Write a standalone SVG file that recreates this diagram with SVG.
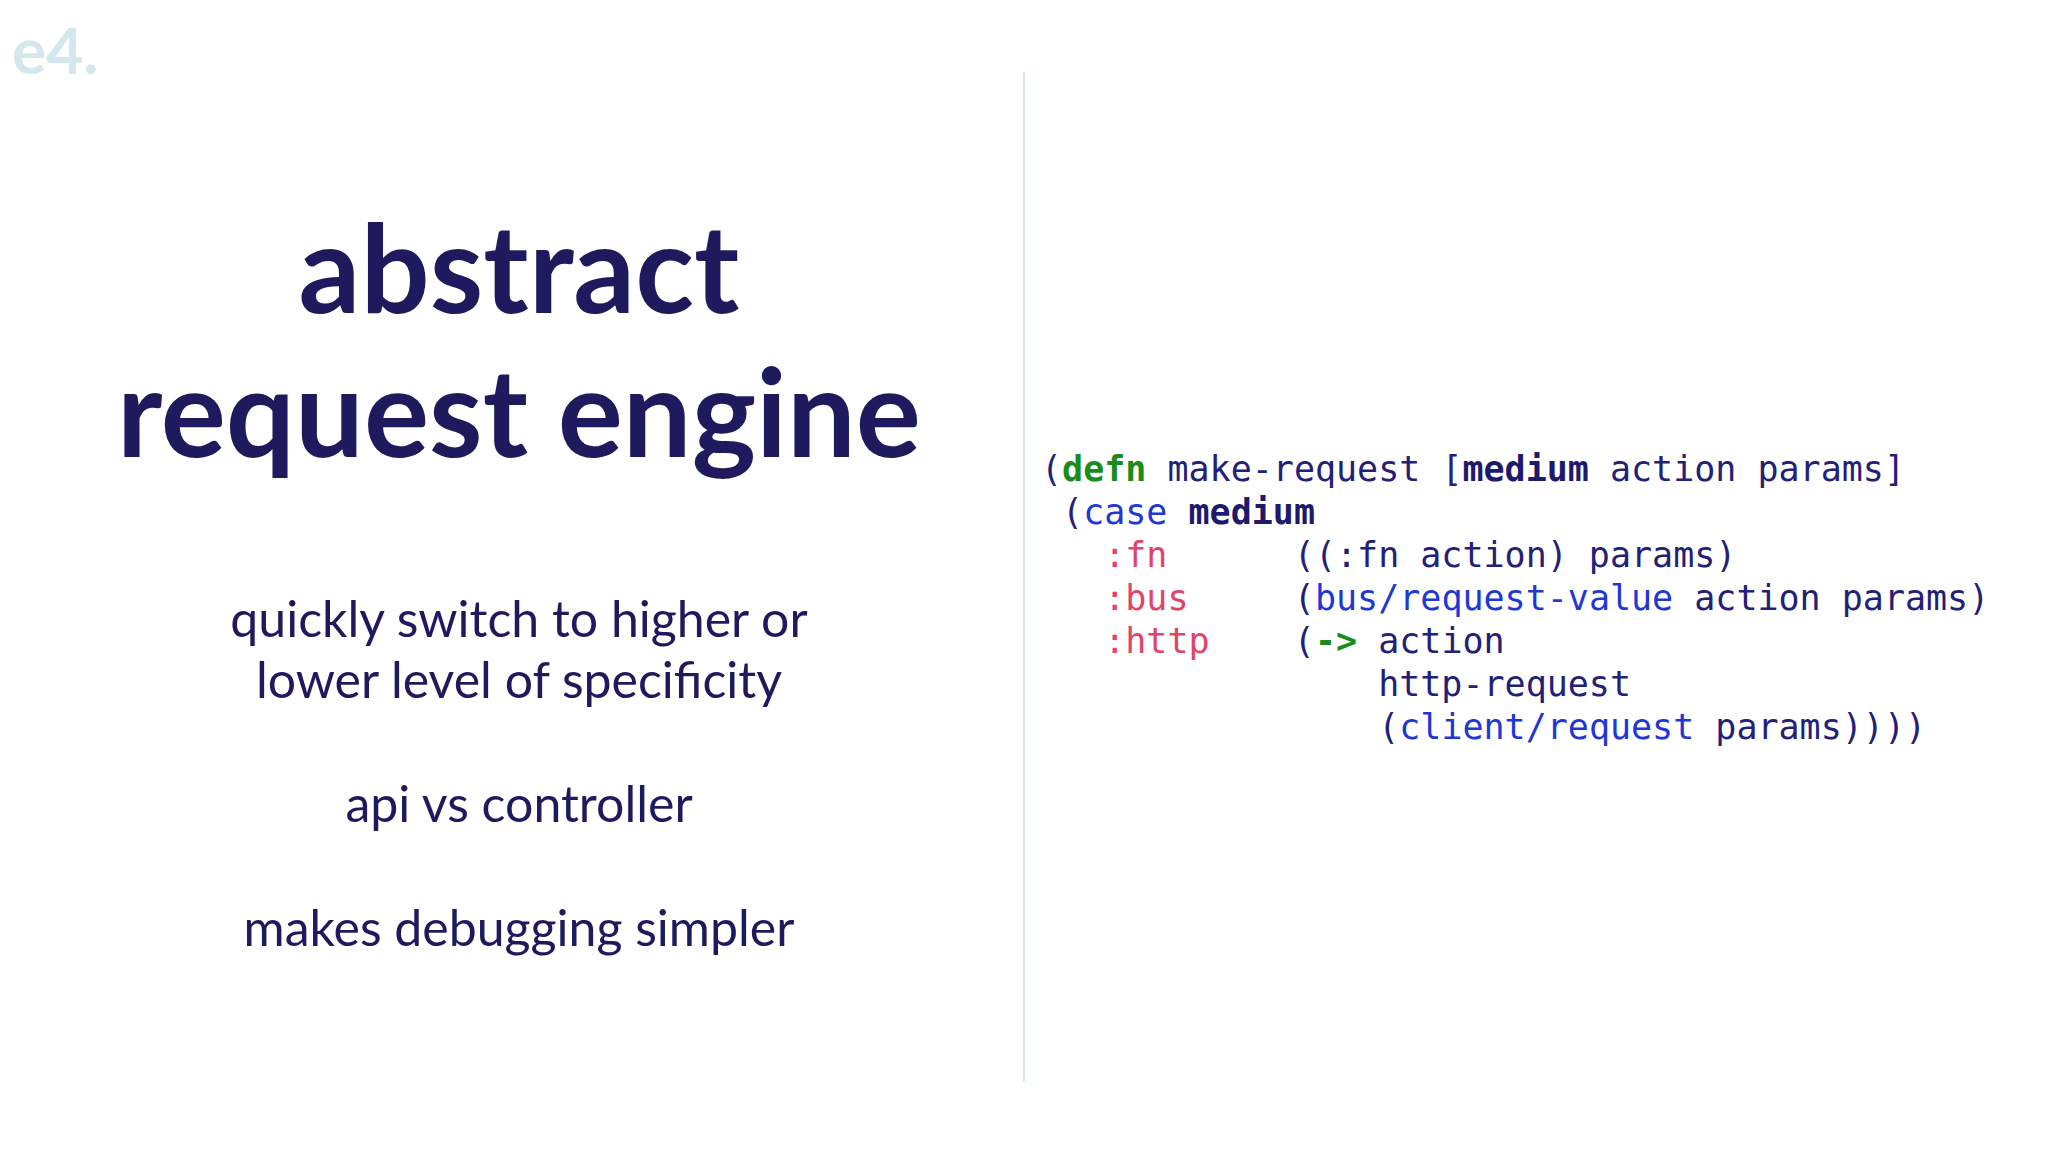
<svg xmlns="http://www.w3.org/2000/svg" width="2048" height="1152" viewBox="0 0 2048 1152">
<style>
.t{font-family:Lato,"Liberation Sans",sans-serif;fill:#1f1a5e;text-anchor:middle}
.c{font-family:"DejaVu Sans Mono","Liberation Mono",monospace;font-size:35px;fill:#232078;white-space:pre}
.g{fill:#1a8c1a;font-weight:bold}.k{fill:#1f37d6}.r{fill:#e04468}.b{font-weight:bold;fill:#1d1a6e}
</style>
<rect width="2048" height="1152" fill="#fff"/>
<g id="logo"><text x="12" y="74" font-family="Lato,sans-serif" font-weight="bold" font-size="64" fill="#d3e7ec">e4.</text></g>
<g id="divider"><line x1="1024" y1="72" x2="1024" y2="1081" stroke="#cfe6e4" stroke-width="2"/></g>
<g id="title">
<text class="t" x="519" y="313" font-size="122" font-weight="bold">abstract</text>
<text class="t" x="519" y="457" font-size="122" font-weight="bold">request engine</text>
</g>
<g id="points">
<text class="t" x="519" y="637" font-size="50">quickly switch to higher or</text>
<text class="t" x="519" y="698" font-size="50">lower level of specificity</text>
<text class="t" x="519" y="822" font-size="50">api vs controller</text>
<text class="t" x="519" y="946" font-size="50">makes debugging simpler</text>
</g>
<g id="code">
<text class="c" x="1041" y="481">(<tspan class="g">defn</tspan> make-request [<tspan class="b">medium</tspan> action params]</text>
<text class="c" x="1041" y="524"> (<tspan class="k">case</tspan> <tspan class="b">medium</tspan></text>
<text class="c" x="1041" y="567">   <tspan class="r">:fn</tspan>      ((:fn action) params)</text>
<text class="c" x="1041" y="610">   <tspan class="r">:bus</tspan>     (<tspan class="k">bus/request-value</tspan> action params)</text>
<text class="c" x="1041" y="653">   <tspan class="r">:http</tspan>    (<tspan class="g">-&gt;</tspan> action</text>
<text class="c" x="1041" y="696">                http-request</text>
<text class="c" x="1041" y="739">                (<tspan class="k">client/request</tspan> params))))</text>
</g>
</svg>
